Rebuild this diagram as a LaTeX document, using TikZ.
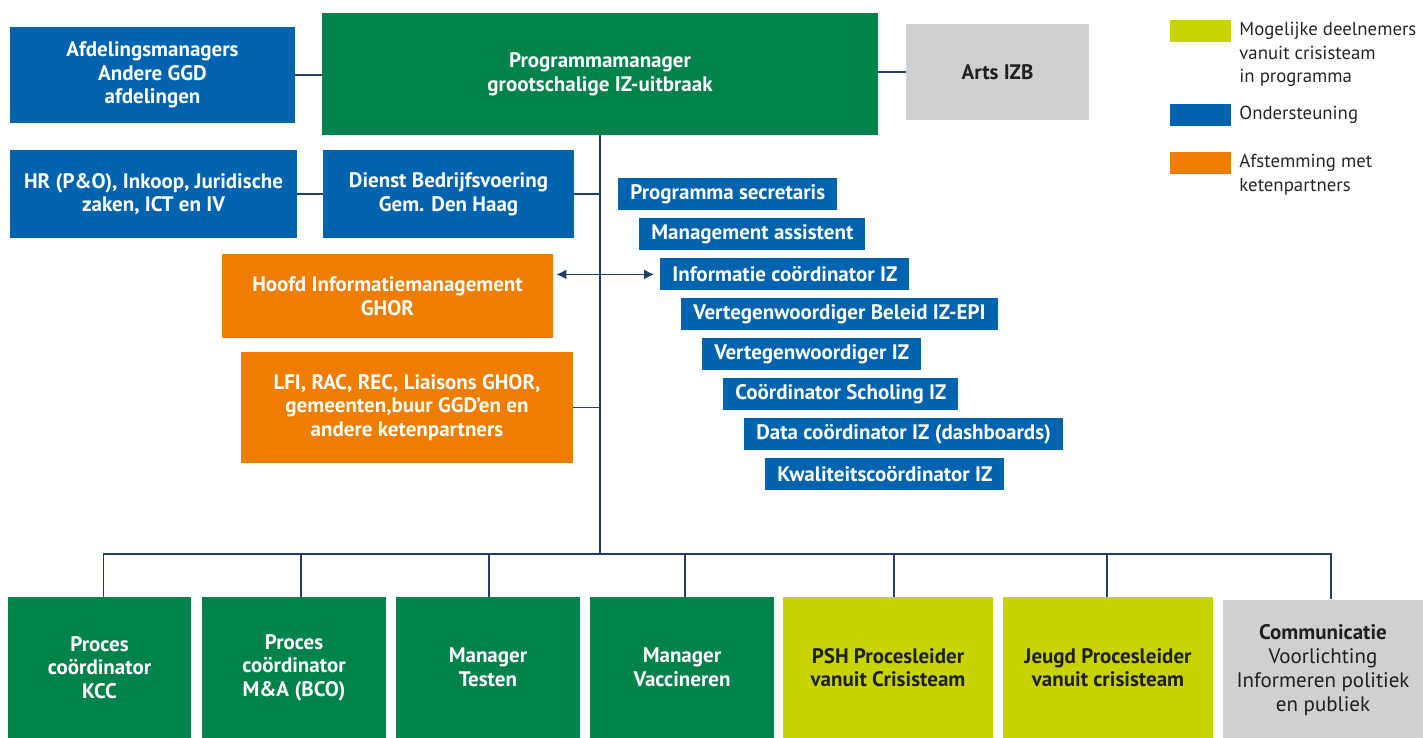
\documentclass[tikz,border=0pt]{standalone}
\usepackage{fontspec}
\setmainfont{PT Sans}
\usepackage{tikz}
\usetikzlibrary{calc,arrows.meta}
\usepackage{xcolor}

\definecolor{ggdgreen}{RGB}{0,131,74}
\definecolor{ggdblue}{RGB}{0,99,176}
\definecolor{ggdorange}{RGB}{238,125,0}
\definecolor{ggdlime}{RGB}{200,212,0}
\definecolor{ggdgray}{RGB}{207,208,210}
\definecolor{linecol}{RGB}{35,62,104}

\begin{document}
\begin{tikzpicture}[x=0.5pt,y=-0.5pt,
    box/.style={fill=#1, inner sep=0pt, align=center,
      font=\bfseries\fontsize{10.5}{11.8}\selectfont},
    wbox/.style={box=#1, text=white},
    kbox/.style={box=#1, text=black!88},
    sz/.style 2 args={minimum width=#1*0.5pt, minimum height=#2*0.5pt},
    conn/.style={draw=linecol, line width=0.6pt},
    legtext/.style={inner sep=0pt, align=left, text=black!85,
      font=\fontsize{9.4}{11.8}\selectfont}]
		\useasboundingbox (0,0) rectangle (1423,738);% fixes the page

		% top row
		\node[wbox=ggdgreen, sz={556}{122}] (prog) at (600,74)
			{Programmamanager\\grootschalige IZ-uitbraak};
		\node[wbox=ggdblue, sz={285}{96}] (afd) at (152.5,75)
			{Afdelingsmanagers\\Andere GGD\\afdelingen};
		\node[kbox=ggdgray, sz={183}{96}] (arts) at (997.5,72) {Arts IZB};

		% support row
		\node[wbox=ggdblue, sz={287}{88}] (hr) at (153.5,194)
			{HR (P\&O), Inkoop, Juridische\\zaken, ICT en IV};
		\node[wbox=ggdblue, sz={251}{88}] (dienst) at (448.5,194)
			{Dienst Bedrijfsvoering\\Gem. Den Haag};

		% chain partners
		\node[wbox=ggdorange, sz={331}{84}] (hoofd) at (387.5,296)
			{Hoofd Informatiemanagement\\GHOR};
		\node[wbox=ggdorange, sz={332}{111}] (lfi) at (407,407.5)
			{LFI, RAC, REC, Liaisons GHOR,\\gemeenten,buur GGD’en en\\andere ketenpartners};

		% staircase of staff functions
		\foreach \txt [count=\i] in {Programma secretaris, Management assistent,
			Informatie coördinator IZ, Vertegenwoordiger Beleid IZ-EPI,
			Vertegenwoordiger IZ, Coördinator Scholing IZ,
			Data coördinator IZ (dashboards), Kwaliteitscoördinator IZ}{
			\node[wbox=ggdblue, anchor=north west, minimum height=16pt, inner xsep=6pt]
				(s\i) at ({618+21*(\i-1)},{178+40*(\i-1)}) {\txt};
		}

		% bottom row
		\node[wbox=ggdgreen, sz={183}{141}] (b1) at (99.5,667.5)
			{Proces\\coördinator\\KCC};
		\node[wbox=ggdgreen, sz={184}{141}] (b2) at (294,667.5)
			{Proces\\coördinator\\M\&A (BCO)};
		\node[wbox=ggdgreen, sz={184}{141}] (b3) at (488,667.5)
			{Manager\\Testen};
		\node[wbox=ggdgreen, sz={184}{141}] (b4) at (682,667.5)
			{Manager\\Vaccineren};
		\node[kbox=ggdlime, sz={210}{141}] (b5) at (888,667.5)
			{PSH Procesleider\\vanuit Crisisteam};
		\node[kbox=ggdlime, sz={210}{141}] (b6) at (1108,667.5)
			{Jeugd Procesleider\\vanuit crisisteam};
		\node[kbox=ggdgray, sz={200}{141}, font=\fontsize{10.5}{12}\selectfont] (b7) at (1323,670)
			{\textbf{Communicatie}\\Voorlichting\\Informeren politiek\\en publiek};

		% connectors
		\coordinate (hub) at (600,554);
		\draw[conn] (prog.south) -- (hub);
		\draw[conn] (afd.east) -- (afd.east -| prog.west);
		\draw[conn] (prog.east |- arts.west) -- (arts.west);
		\draw[conn] (hr.east) -- (dienst.west);
		\draw[conn] (dienst.east) -- (dienst.east -| hub);
		\draw[conn] (lfi.east) -- (lfi.east -| hub);
		\draw[conn, {Latex[length=5pt,width=5pt]}-{Latex[length=5pt,width=5pt]}]
			($(hoofd.east |- s3.west)+(3,0)$) -- ($(s3.west)+(-6,0)$);
		\foreach \i/\dx in {1/4,2/7,3/1,4/3,5/6,6/-1,7/8}{
			\draw[conn] (hub) -| ([xshift=\dx*0.5pt]b\i.north);
		}

		% legend
		\node[fill=ggdlime, sz={61}{22}, anchor=north west] (legLime) at (1170,20) {};
		\node[fill=ggdblue, sz={61}{22}, anchor=north west] (legBlue) at (1170,104) {};
		\node[fill=ggdorange, sz={61}{22}, anchor=north west] (legOrange) at (1170,152) {};
		\node[legtext, anchor=north west] (legLimeTxt) at (1239,22)
			{Mogelijke deelnemers\\vanuit crisisteam\\in programma};
		\node[legtext, anchor=west] (legBlueTxt) at (1239,115) {Ondersteuning};
		\node[legtext, anchor=north west] (legOrangeTxt) at (1239,154)
			{Afstemming met\\ketenpartners};
	  \end{tikzpicture}
\end{document}
